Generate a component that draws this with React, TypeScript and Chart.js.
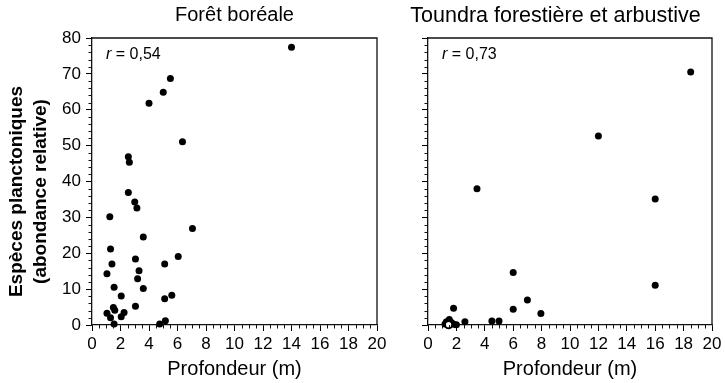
import React, { useEffect, useRef } from 'react';
import { Chart, registerables } from 'chart.js';

Chart.register(...registerables);

const FONT = '"Liberation Sans", Arial, Helvetica, sans-serif';

// Forêt boréale
const borealDepth = [14.0, 5.5, 5.0, 4.0, 6.35, 2.55, 2.62, 2.55, 3.0, 3.15, 1.25, 7.05, 3.6, 1.3, 3.05, 1.4, 5.1, 6.05, 1.05, 3.3, 3.2, 1.55, 3.6, 2.05, 5.6, 5.1, 3.05, 1.5, 1.6, 1.05, 1.3, 2.25, 2.05, 1.55, 4.75, 5.15];
const borealSpecies = [77.4, 68.7, 64.9, 61.8, 51.1, 46.9, 45.4, 36.9, 34.3, 32.6, 30.2, 26.9, 24.5, 21.2, 18.4, 17.0, 17.0, 19.1, 14.3, 15.1, 12.9, 10.5, 10.2, 8.1, 8.3, 7.3, 5.2, 4.9, 4.1, 3.3, 2.0, 3.5, 2.3, 0.3, 0.3, 1.2];

// Toundra forestière et arbustive
const tundraDepth = [18.5, 12.0, 3.45, 16.0, 16.0, 6.0, 7.0, 6.0, 7.95, 1.8, 2.6, 4.5, 5.0, 1.5, 1.2, 1.8, 1.65, 1.3, 2.0, 1.45];
const tundraSpecies = [70.5, 52.7, 38.0, 35.1, 11.1, 14.6, 7.0, 4.4, 3.2, 4.7, 0.9, 1.1, 1.1, 1.5, 0.3, 0.2, 0.7, 0.9, 0.1, 0.1];
const tundraHollowIndex = 19;

const panelTitles = ['Forêt boréale', 'Toundra forestière et arbustive'];
const rValues = ['0,54', '0,73'];
const yTitle = ['Espèces planctoniques', '(abondance relative)'];
const xTitle = 'Profondeur (m)';
const xRange = [0, 20];
const yRange = [0, 80];
const xMajorStep = 2;
const xMinorStep = 0.5;
const yMajorStep = 10;
const yMinorStep = 2;

const decorPlugin = {
  id: 'decor',
  afterDraw(chart: any, _args: any, opts: any) {
    const { ctx, chartArea: a, scales } = chart;
    const xs = scales.x;
    const ys = scales.y;
    ctx.save();
    ctx.strokeStyle = '#111';
    ctx.lineWidth = 1.3;
    ctx.beginPath();
    ctx.moveTo(a.left, a.top);
    ctx.lineTo(a.right, a.top);
    ctx.lineTo(a.right, a.bottom);
    ctx.stroke();
    ctx.lineWidth = 1;
    ctx.beginPath();
    for (let v = ys.min; v <= ys.max + 1e-9; v += yMinorStep) {
      if (Math.abs(v % yMajorStep) < 1e-6) continue;
      const py = Math.round(ys.getPixelForValue(v)) + 0.5;
      ctx.moveTo(a.left - 3.5, py);
      ctx.lineTo(a.left, py);
    }
    for (let v = xs.min; v <= xs.max + 1e-9; v += xMinorStep) {
      if (Math.abs(v % xMajorStep) < 1e-6) continue;
      const px = Math.round(xs.getPixelForValue(v)) + 0.5;
      ctx.moveTo(px, a.bottom);
      ctx.lineTo(px, a.bottom + 3.5);
    }
    ctx.stroke();
    ctx.fillStyle = '#000';
    ctx.textBaseline = 'middle';
    ctx.textAlign = 'left';
    const tx = a.left + 14;
    const ty = a.top + 17;
    ctx.font = `italic 16px ${FONT}`;
    ctx.fillText('r', tx, ty);
    const w = ctx.measureText('r').width;
    ctx.font = `16px ${FONT}`;
    ctx.fillText(' = ' + opts.r, tx + w, ty);

    if (opts.yTitle) {
      ctx.save();
      ctx.font = `bold 19px ${FONT}`;
      ctx.textAlign = 'center';
      ctx.textBaseline = 'middle';
      const cy = (a.top + a.bottom) / 2 + 10;
      ctx.translate(17, cy);
      ctx.rotate(-Math.PI / 2);
      ctx.fillText(opts.yTitle[0], 0, 0);
      ctx.fillText(opts.yTitle[1], 0, 24);
      ctx.restore();
    }
    ctx.restore();
  },
};

function makeConfig(
  xsData: number[],
  ysData: number[],
  title: string,
  titleSize: number,
  r: string,
  showY: boolean,
  yWidth: number,
  padRight: number,
  titleFull: boolean,
  hollow: number
): any {
  const pts = xsData.map((x, i) => ({ x, y: ysData[i] }));
  const bg = xsData.map((_, i) => (i === hollow ? '#fff' : '#000'));
  const bw = xsData.map((_, i) => (i === hollow ? 2 : 0));
  const rad = xsData.map((_, i) => (i === hollow ? 3.6 : 3.5));
  const titleLine = titleSize * 1.2;
  const titleBottom = 38 - 3 - titleLine;
  return {
    type: 'scatter',
    data: {
      datasets: [
        {
          data: pts,
          pointRadius: rad,
          pointBackgroundColor: bg,
          pointBorderColor: '#000',
          pointBorderWidth: bw,
          clip: false,
        },
      ],
    },
    plugins: [decorPlugin],
    options: {
      responsive: false,
      animation: false,
      layout: { padding: { left: 0, right: padRight, top: 0, bottom: 0 } },
      plugins: {
        legend: { display: false },
        tooltip: { enabled: false },
        title: {
          display: true,
          text: title,
          color: '#000',
          fullSize: titleFull,
          font: { family: FONT, size: titleSize, weight: 'normal' },
          padding: { top: 3, bottom: titleBottom },
        },
        decor: { r, yTitle: showY ? yTitle : null },
      },
      scales: {
        x: {
          type: 'linear',
          min: xRange[0],
          max: xRange[1],
          afterFit: (s: any) => {
            s.height = 58;
            s.paddingLeft = 0;
            s.paddingRight = 0;
          },
          ticks: {
            stepSize: xMajorStep,
            autoSkip: false,
            maxRotation: 0,
            color: '#000',
            padding: 3,
            font: { family: FONT, size: 17 },
          },
          grid: { drawOnChartArea: false, drawTicks: true, tickLength: 6, tickColor: '#000', tickWidth: 1 },
          border: { display: true, color: '#111', width: 1.3 },
          title: {
            display: true,
            text: xTitle,
            color: '#000',
            font: { family: FONT, size: 20 },
            padding: { top: 0, bottom: 2 },
          },
        },
        y: {
          type: 'linear',
          min: yRange[0],
          max: yRange[1],
          afterFit: (s: any) => {
            s.width = yWidth;
            s.paddingTop = 0;
            s.paddingBottom = 0;
          },
          ticks: {
            display: showY,
            stepSize: yMajorStep,
            color: '#000',
            padding: 5,
            font: { family: FONT, size: 17 },
          },
          grid: { drawOnChartArea: false, drawTicks: true, tickLength: 6, tickColor: '#000', tickWidth: 1 },
          border: { display: true, color: '#111', width: 1.3 },
          title: { display: false },
        },
      },
    },
  };
}

export default function App() {
  const leftRef = useRef<HTMLCanvasElement>(null);
  const rightRef = useRef<HTMLCanvasElement>(null);
  useEffect(() => {
    const c1 = new Chart(
      leftRef.current as HTMLCanvasElement,
      makeConfig(borealDepth, borealSpecies, panelTitles[0], 20, rValues[0], true, 92, 22, false, -1)
    );
    const c2 = new Chart(
      rightRef.current as HTMLCanvasElement,
      makeConfig(tundraDepth, tundraSpecies, panelTitles[1], 21.5, rValues[1], false, 29, 13, true, tundraHollowIndex)
    );
    return () => {
      c1.destroy();
      c2.destroy();
    };
  }, []);
  return (
    <div style={{ position: 'absolute', left: 0, top: 0, width: 725, height: 383, background: '#fff' }}>
      <canvas
        ref={leftRef}
        width={399}
        height={383}
        style={{ position: 'absolute', left: 0, top: 0, width: 399, height: 383 }}
      />
      <canvas
        ref={rightRef}
        width={326}
        height={383}
        style={{ position: 'absolute', left: 399, top: 0, width: 326, height: 383 }}
      />
    </div>
  );
}
